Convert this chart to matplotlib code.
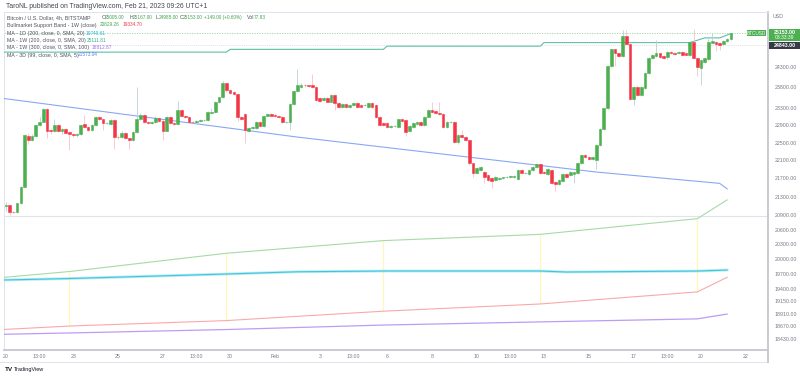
import matplotlib.pyplot as plt
from matplotlib.patches import Rectangle
from matplotlib.lines import Line2D
from matplotlib.ticker import NullLocator, NullFormatter

plt.rcParams['font.family'] = ['Liberation Sans', 'DejaVu Sans']

# BTCUSD 4h candles, Jan 20 01:00 -> Feb 21 09:00 (UTC+1), one entry per bar
opens = [21100, 21110, 20977, 20970, 21157, 21517, 22660, 22563, 22650, 22909,
         22987, 23277, 22793, 22763, 22909, 22777, 22808, 22740, 22700, 22670,
         22690, 22925, 22870, 22793, 22909, 23089, 23040, 22950, 22940, 23026,
         22640, 22625, 22730, 22600, 22563, 22750, 23050, 23143, 22987, 22965,
         22980, 23070, 23010, 22777, 23089, 22963, 22940, 23261, 23130, 23100,
         22987, 22970, 23000, 23026, 23030, 23195, 23225, 23453, 23560, 23905,
         23739, 23690, 23650, 23090, 23170, 22770, 22840, 22840, 22980, 22890,
         23125, 23165, 23143, 23125, 23090, 22970, 22980, 23400, 23720, 23810,
         23859, 23859, 23859, 23820, 23540, 23499, 23540, 23460, 23618, 23435,
         23340, 23400, 23340, 23380, 23435, 23380, 23370, 23340, 23420, 23380,
         23105, 22948, 22948, 22870, 22890, 22870, 23040, 23026, 22777, 22870,
         22925, 22987, 22909, 23105, 23261, 23240, 23190, 23170, 22870, 22980,
         22987, 22525, 22677, 22640, 22563, 22034, 21825, 21885, 21845, 21774,
         21700, 21664, 21680, 21700, 21722, 21737, 21722, 21680, 21885, 21810,
         21796, 21885, 21945, 22012, 21848, 21796, 21885, 21627, 21576, 21650,
         21796, 21774, 21790, 21818, 22048, 22221, 22170, 22125, 22108, 22448,
         22810, 23300, 24325, 24740, 24640, 24572, 25078, 24874, 23515, 23820,
         23618, 23780, 24150, 24513, 24572, 24640, 24572, 24538, 24680, 24650,
         24640, 24680, 24650, 24590, 24937, 24513, 24268, 24430, 24490, 24912,
         24937, 24912, 24878, 24950, 25005]
highs = [21190, 21130, 21000, 21170, 21530, 22700, 22720, 22700, 22930, 23100,
         23310, 23300, 22830, 23040, 22930, 22850, 22830, 22760, 22720, 22720,
         22940, 23140, 22890, 22930, 23110, 23110, 23060, 22990, 23050, 23050,
         22680, 22760, 22750, 22610, 22780, 23820, 23200, 23170, 23010, 23010,
         23110, 23090, 23030, 23110, 23110, 22980, 23480, 23280, 23150, 23120,
         23000, 23020, 23050, 23060, 23230, 23300, 23480, 23580, 23950, 23920,
         23760, 23710, 23670, 23110, 23200, 22870, 22890, 23000, 23010, 23150,
         23190, 23180, 23160, 23140, 23110, 23010, 23420, 23740, 24240, 23900,
         23880, 23870, 24130, 23840, 23560, 23560, 23560, 23640, 23640, 23450,
         23430, 23420, 23400, 23460, 23460, 23400, 23400, 23450, 23440, 23400,
         23120, 22970, 22970, 22910, 22920, 23060, 23060, 23040, 22910, 22970,
         23010, 23010, 23130, 23280, 23450, 23260, 23450, 23190, 23010, 23010,
         23010, 22700, 22790, 22660, 22580, 22050, 21950, 21970, 21870, 21790,
         21720, 21760, 21720, 21740, 21760, 21770, 21770, 21900, 21900, 21840,
         21900, 21980, 22030, 22050, 21860, 21920, 21900, 21650, 21690, 21820,
         21820, 21870, 21870, 22070, 22240, 22240, 22190, 22190, 22470, 22830,
         23320, 24350, 24760, 24760, 24660, 25240, 25220, 24890, 23840, 23840,
         23840, 24170, 24540, 24620, 24980, 24660, 24590, 24700, 24700, 24670,
         24700, 24700, 24670, 24960, 25250, 24530, 24490, 24530, 25000, 25150,
         24960, 24930, 24980, 25020, 25167]
lows = [20990, 20900, 20950, 20960, 21140, 21500, 22480, 22540, 22630, 22890,
        22970, 22620, 22700, 22740, 22740, 22700, 22700, 22340, 22640, 22640,
        22670, 22850, 22770, 22770, 22890, 23020, 22800, 22930, 22920, 22360,
        22590, 22600, 22580, 22350, 22540, 22730, 23030, 22960, 22940, 22940,
        22960, 22990, 22560, 22760, 22940, 22920, 22920, 23100, 23080, 22960,
        22950, 22950, 22980, 23010, 23010, 23180, 23200, 23430, 23540, 23700,
        23640, 23610, 23000, 23020, 22500, 22740, 22820, 22820, 22870, 22860,
        23110, 23110, 23100, 23070, 22950, 22950, 22800, 23380, 23700, 23790,
        23820, 23810, 23790, 23470, 23460, 23480, 23440, 23440, 23261, 23320,
        23320, 23320, 23320, 23360, 23320, 23300, 23350, 23320, 23320, 23080,
        22890, 22880, 22850, 22850, 22870, 22850, 22980, 22650, 22760, 22850,
        22900, 22890, 22890, 23090, 23200, 23160, 23140, 22850, 22850, 22960,
        22500, 22480, 22620, 22540, 22000, 21720, 21800, 21860, 21590, 21640,
        21480, 21640, 21660, 21680, 21700, 21710, 21700, 21660, 21790, 21790,
        21780, 21870, 21930, 21800, 21790, 21780, 21580, 21420, 21550, 21630,
        21710, 21750, 21600, 21800, 22030, 22150, 22100, 22100, 21900, 22430,
        22790, 23280, 24300, 24320, 24550, 24550, 24850, 23490, 23380, 23600,
        23600, 23760, 24130, 24490, 24550, 24530, 24490, 24510, 24620, 24600,
        24620, 24570, 24570, 24570, 24490, 24070, 23850, 24410, 24470, 24890,
        24710, 24720, 24860, 24930, 24985]
closes = [21110, 20977, 20970, 21157, 21517, 22677, 22563, 22650, 22909, 22987,
          23277, 22777, 22763, 22909, 22777, 22808, 22730, 22700, 22670, 22700,
          22909, 22870, 22793, 22909, 23089, 23040, 22950, 22960, 23026, 22640,
          22625, 22730, 22600, 22563, 22750, 23050, 23143, 22987, 22965, 22980,
          23070, 23010, 22777, 23089, 22963, 22940, 23261, 23120, 23100, 22987,
          22970, 23000, 23026, 23035, 23205, 23225, 23453, 23560, 23905, 23739,
          23675, 23640, 23090, 23050, 22793, 22840, 22865, 22980, 22890, 23125,
          23165, 23125, 23115, 23090, 22970, 22987, 23400, 23720, 23859, 23859,
          23850, 23835, 23820, 23499, 23480, 23540, 23460, 23618, 23435, 23340,
          23400, 23340, 23380, 23435, 23340, 23325, 23380, 23420, 23340, 23105,
          22909, 22909, 22870, 22890, 22895, 23040, 23000, 22755, 22890, 22948,
          22987, 22909, 23105, 23261, 23222, 23180, 23160, 22870, 22987, 22990,
          22525, 22677, 22640, 22563, 22034, 21825, 21922, 21945, 21735, 21664,
          21650, 21737, 21700, 21722, 21737, 21745, 21750, 21885, 21810, 21815,
          21885, 21960, 22012, 21825, 21810, 21900, 21605, 21576, 21664, 21796,
          21737, 21848, 21850, 22048, 22221, 22170, 22125, 22170, 22448, 22810,
          23300, 24325, 24740, 24640, 24572, 25078, 24874, 23515, 23820, 23618,
          23820, 24150, 24513, 24598, 24640, 24555, 24513, 24680, 24640, 24620,
          24680, 24590, 24590, 24937, 24513, 24305, 24474, 24513, 24937, 24962,
          24878, 24850, 24962, 25005, 25153]

# indicator lines, read at their bar index nodes
ma3d_idx = [-1, 78, 158, 191, 193]
ma3d_val = [23540, 22630, 21840, 21590, 21470]
ma1w200_idx = [-1, 59, 60, 101, 102, 143, 144, 183, 187, 191, 194]
ma1w200_val = [24670, 24670, 24740, 24740, 24820, 24820, 24910, 24910, 25030, 25030, 25140]
band_idx = [-1, 17, 59, 101, 143, 185, 193]
band_upper = [19620, 19740, 20110, 20370, 20500, 20829.26, 21230]
band_lower = [18610, 18676, 18780, 18960, 19100, 19334.70, 19625]
ma1w300_val = [18520, 18545, 18610, 18695, 18755, 18812.87, 18905]
ma1d_idx = [-1, 17, 59, 78, 101, 143, 150, 185, 193]
ma1d_val = [19570, 19600, 19690, 19735, 19750, 19750, 19730, 19749.61, 19770]
week_close_idx = [17, 59, 101, 143, 185]

price_ticks = [24300, 23800, 23300, 22900, 22500, 22100, 21700, 21300, 20900,
               20600, 20300, 20000, 19700, 19400, 19150, 18910, 18670, 18430]
time_pos = [0, 9, 18, 30, 42, 51, 60, 72, 84, 93, 102, 114, 126, 135, 144, 156, 168, 177, 186, 198]
time_lbl = ['20', '13:00', '23', '25', '27', '13:00', '30', 'Feb', '3', '13:00', '6',
            '8', '10', '13:00', '13', '15', '17', '13:00', '20', '22']

last_price = 25153
prev_close = 24843
hline_price = 20890

W, H = 800, 378
fig = plt.figure(figsize=(W / 100, H / 100), dpi=100)


def fx(x):
    return x / W


def fy(y):
    return 1 - y / H


ax = fig.add_axes([fx(4), fy(350), 764 / W, 338 / H])
ax.set_yscale('log')
ax.set_ylim(18227, 25697)
ax.set_xlim(-0.51, 203.93)

up_c, dn_c = '#4caf50', '#f23645'
up_w, dn_w = '#bccfd9', '#f7c3c9'

ax.axhline(hline_price, color='#e0e3eb', lw=0.8, zorder=1)
ax.axhline(last_price, color='#9fd3a1', lw=0.6, ls=(0, (1.5, 1.5)), zorder=1)
ax.axhline(prev_close, color='#d1d4dc', lw=0.5, ls=(0, (1.5, 1.5)), zorder=1)

# higher timeframe lines
ax.vlines(week_close_idx, [band_lower[band_idx.index(i)] for i in week_close_idx],
          [band_upper[band_idx.index(i)] for i in week_close_idx],
          colors='#fff6b8', lw=0.9, zorder=2)
ax.plot(band_idx, band_upper, color='#a9d9a6', lw=0.8, zorder=3)
ax.plot(band_idx, band_lower, color='#f8a9a9', lw=0.8, zorder=3)
ax.plot(band_idx, ma1w300_val, color='#bc9cf4', lw=0.9, zorder=3)
ax.plot(ma1d_idx, ma1d_val, color='#9be3ee', lw=2.0, alpha=0.7, zorder=3)
ax.plot(ma1d_idx, ma1d_val, color='#3ec6dc', lw=0.8, zorder=3)
ax.plot(ma3d_idx, ma3d_val, color='#8aa6f7', lw=0.8, zorder=3)
ax.plot(ma1w200_idx, ma1w200_val, color='#5fbfa6', lw=0.8, zorder=3)

# candles
idx = list(range(len(closes)))
wick_cols = [up_w if c >= o else dn_w for o, c in zip(opens, closes)]
body_cols = [up_c if c >= o else dn_c for o, c in zip(opens, closes)]
ax.vlines(idx, lows, highs, colors=wick_cols, lw=0.6, zorder=4)
bottoms = [min(o, c) for o, c in zip(opens, closes)]
heights = [abs(c - o) for o, c in zip(opens, closes)]
ax.bar(idx, heights, bottom=bottoms, width=0.72, color=body_cols,
       edgecolor=body_cols, linewidth=0.4, zorder=5)

# axes styling
ax.yaxis.tick_right()
ax.set_yticks(price_ticks)
ax.set_yticklabels([f'{v:.2f}' for v in price_ticks])
ax.yaxis.set_minor_locator(NullLocator())
ax.yaxis.set_minor_formatter(NullFormatter())
ax.tick_params(axis='y', length=0, pad=5, labelsize=3.8, labelcolor='#787b86')
ax.set_xticks(time_pos)
ax.set_xticklabels(time_lbl)
ax.tick_params(axis='x', length=0, pad=3, labelsize=3.8, labelcolor='#787b86')
for s in ['left', 'top']:
    ax.spines[s].set_color('#e0e3eb')
    ax.spines[s].set_linewidth(0.7)
for s in ['right', 'bottom']:
    ax.spines[s].set_color('#c4c7ce')
    ax.spines[s].set_linewidth(1.3)

fig.add_artist(Line2D([0, fx(768)], [fy(362), fy(362)], color='#e0e3eb', lw=0.7))
fig.add_artist(Line2D([fx(768), fx(768)], [fy(350), fy(362)], color='#c4c7ce', lw=1.3))

# header and legend
fig.text(fx(6), fy(6), 'TaroNL published on TradingView.com, Feb 21, 2023 09:26 UTC+1',
         fontsize=4.9, color='#434651', va='center')
gray = '#50535e'
green = '#3fa34d'
fs = 3.8
vs = 3.45
ly = [17.3, 25, 33.3, 40.7, 47.7, 55]
fig.text(fx(7), fy(ly[0]), 'Bitcoin / U.S. Dollar, 4h, BITSTAMP', fontsize=fs, color=gray, va='center')
for xl, lab, val in [(102, 'O', '25005.00'), (129.5, 'H', '25167.00'),
                     (155.5, 'L', '24985.00'), (179.5, 'C', '25153.00')]:
    fig.text(fx(xl), fy(ly[0]), lab, fontsize=fs, color=gray, va='center')
    fig.text(fx(xl + 3), fy(ly[0]), val, fontsize=vs, color=green, va='center')
fig.text(fx(204), fy(ly[0]), '+149.00 (+0.60%)', fontsize=vs, color=green, va='center')
fig.text(fx(247), fy(ly[0]), 'Vol', fontsize=fs, color=gray, va='center')
fig.text(fx(254), fy(ly[0]), '77.83', fontsize=vs, color=green, va='center')

fig.text(fx(7), fy(ly[1]), 'Bullmarket Support Band - 1W (close)', fontsize=fs, color=gray, va='center')
fig.text(fx(100), fy(ly[1]), '20829.26', fontsize=vs, color=green, va='center')
fig.text(fx(122.5), fy(ly[1]), '19334.70', fontsize=vs, color='#f23645', va='center')
legend_rows = [('MA - 1D (200, close, 0, SMA, 20)', 86, '19749.61', '#1cb8d0'),
               ('MA - 1W (200, close, 0, SMA, 20)', 86.5, '25111.81', '#2fae8f'),
               ('MA - 1W (300, close, 0, SMA, 100)', 91.5, '18812.87', '#9b6bf0'),
               ('MA - 3D (99, close, 0, SMA, 5)', 77.5, '21573.04', '#4f7ef0')]
for (name, xv, val, col), yy in zip(legend_rows, ly[2:]):
    fig.text(fx(7), fy(yy), name, fontsize=fs, color=gray, va='center')
    fig.text(fx(xv), fy(yy), val, fontsize=vs, color=col, va='center')

# price scale labels
fig.text(fx(773), fy(17), 'USD', fontsize=3.8, color='#787b86', va='center')
fig.add_artist(Rectangle((fx(769), fy(41)), 31 / W, 12 / H, color='#4caf50', lw=0))
fig.text(fx(784.5), fy(32.2), f'{last_price:.2f}', fontsize=3.8, color='white',
         va='center', ha='center', fontweight='bold')
fig.text(fx(784.5), fy(37.8), '03:33:39', fontsize=3.6, color='white', va='center', ha='center')
fig.add_artist(Rectangle((fx(769), fy(49)), 31 / W, 7 / H, color='#363a45', lw=0))
fig.text(fx(784.5), fy(45.5), f'{prev_close:.2f}', fontsize=3.8, color='white',
         va='center', ha='center', fontweight='bold')
fig.add_artist(Rectangle((fx(747), fy(36.3)), 19 / W, 6 / H, color='#4caf50', lw=0))
fig.text(fx(756.5), fy(33.3), 'BTCUSD', fontsize=3.4, color='white', va='center', ha='center')

# footer
fig.text(fx(5), fy(369.5), 'TV', fontsize=4.6, color='#131722', va='center', fontweight='heavy')
fig.text(fx(13.5), fy(369.5), 'TradingView', fontsize=4.0, color='#131722', va='center')

fig.savefig('out.png', dpi=100)
